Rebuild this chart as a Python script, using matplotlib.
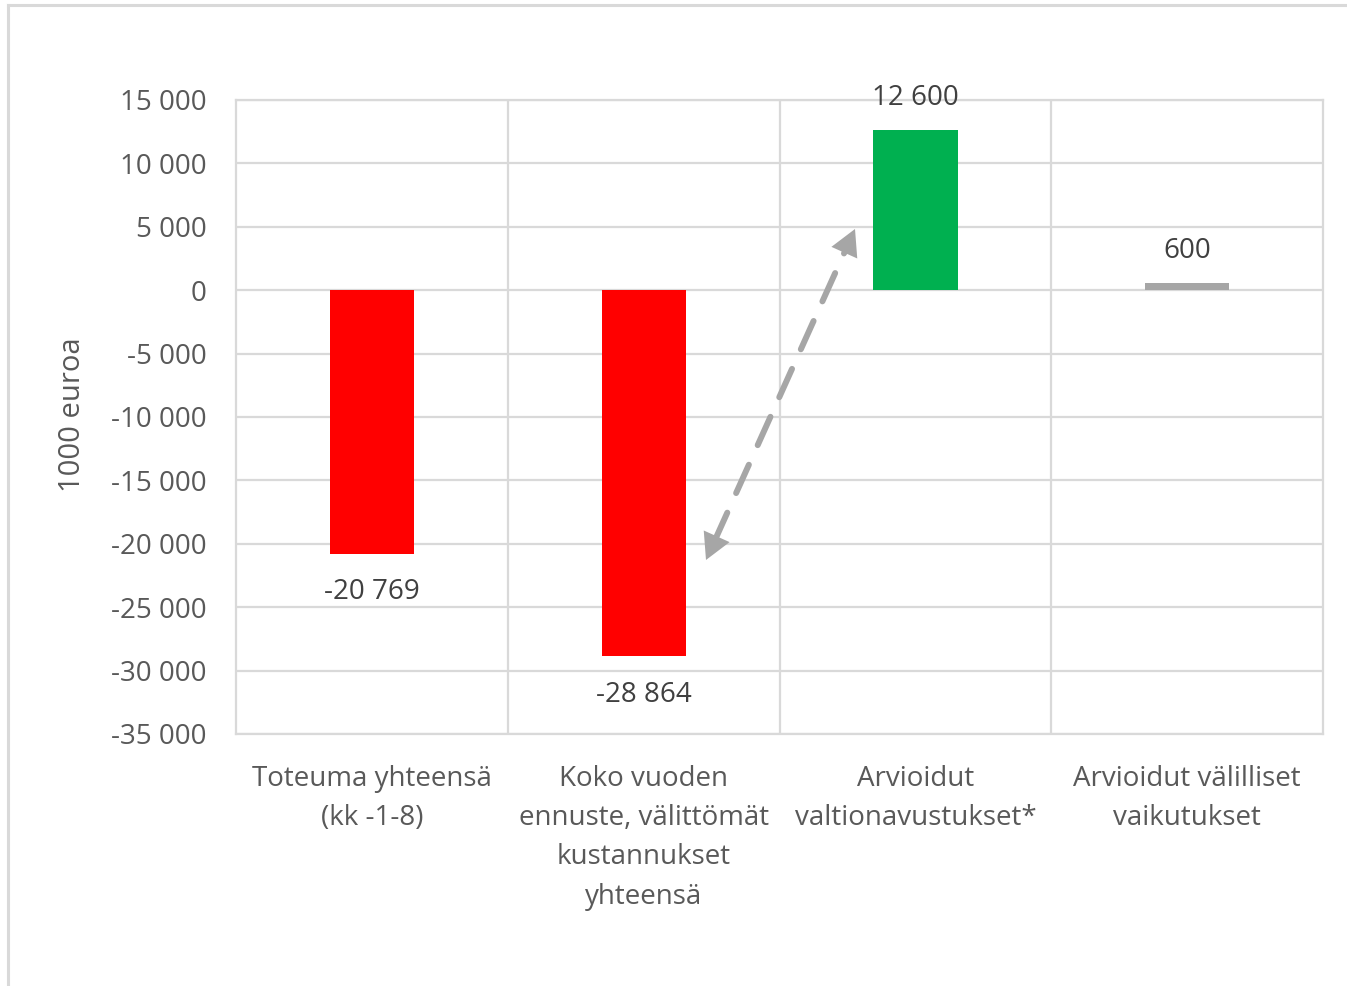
import matplotlib.pyplot as plt
from matplotlib.lines import Line2D
from matplotlib.ticker import FuncFormatter

plt.rcParams['font.family'] = ['Open Sans', 'DejaVu Sans']

categories = [
    "Toteuma yhteensä\n(kk -1-8)",
    "Koko vuoden\nennuste, välittömät\nkustannukset\nyhteensä",
    "Arvioidut\nvaltionavustukset*",
    "Arvioidut välilliset\nvaikutukset",
]
values = [-20769, -28864, 12600, 600]
bar_colors = ["#ff0000", "#ff0000", "#00b050", "#a6a6a6"]
yticks = list(range(-35000, 15001, 5000))

TEXT = "#595959"
LABEL = "#404040"
GRID = "#d9d9d9"
ARROW = "#a6a6a6"
FS = 20


def fmt(v):
    s = f"{abs(int(v)):,}".replace(",", " ")
    return ("-" if v < 0 else "") + s


fig = plt.figure(figsize=(13.47, 9.86), dpi=100)
ax = fig.add_axes([0.1752, 0.2556, 0.807, 0.643])

x = range(len(values))
ax.bar(x, values, width=0.31, color=bar_colors, zorder=3)

ax.set_xlim(-0.5, len(values) - 0.5)
ax.set_ylim(-35000, 15000)
ax.set_yticks(yticks)
ax.yaxis.set_major_formatter(FuncFormatter(lambda v, p: fmt(v)))
ax.set_xticks(list(x))
ax.set_xticklabels(categories, fontsize=FS, color=TEXT, linespacing=1.54)
ax.tick_params(axis='y', labelsize=FS, labelcolor=TEXT, length=0, pad=21)
ax.tick_params(axis='x', length=0, pad=22)

# horizontal grid and vertical category separators
ax.grid(axis='y', color=GRID, linewidth=1.6, zorder=0)
for b in [0.5, 1.5, 2.5]:
    ax.axvline(b, color=GRID, linewidth=1.6, zorder=0)
for side in ax.spines.values():
    side.set_color(GRID)
    side.set_linewidth(1.6)

ax.set_ylabel("1000 euroa", fontsize=21, color=TEXT)
ax.yaxis.set_label_coords(-0.137, 0.503)

# value labels
for i, v in enumerate(values):
    off = -28 if v < 0 else 23
    ax.annotate(fmt(v), (i, v), xytext=(0, off), textcoords='offset points',
                ha='center', va='center', fontsize=FS, color=LABEL, zorder=5)

# dashed double-headed arrow between the forecast and the subsidies
p_low = (1.2295, -21278)
p_high = (1.7778, 4826)
ax.annotate("", xy=p_high, xytext=p_low,
            arrowprops=dict(arrowstyle='-', color=ARROW, lw=4.3,
                            linestyle=(0, (5.2, 3.6)),
                            shrinkA=15, shrinkB=15), zorder=4)
for tip, tail in [(p_high, p_low), (p_low, p_high)]:
    ax.annotate("", xy=tip, xytext=tail,
                arrowprops=dict(arrowstyle='-|>,head_length=1.1,head_width=0.6',
                                mutation_scale=17, color=ARROW, lw=0,
                                shrinkA=0, shrinkB=0), zorder=4)

# outer chart frame
fig.add_artist(Line2D([0.006, 0.006], [0.0, 0.995], transform=fig.transFigure,
                      color=GRID, linewidth=2.2))
fig.add_artist(Line2D([0.006, 1.0], [0.995, 0.995], transform=fig.transFigure,
                      color=GRID, linewidth=2.2))

fig.savefig("out.png", dpi=100, facecolor="white")
